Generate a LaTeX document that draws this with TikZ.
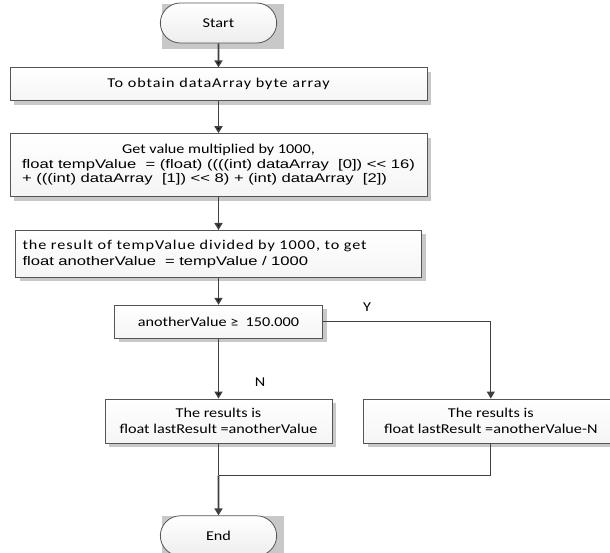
\documentclass[tikz,border=0pt]{standalone}
\usepackage{fontspec}
\setmainfont{Carlito}[FakeStretch=1.2]
\newfontfamily\codefont{Liberation Sans}[FakeStretch=1.33]
\newfontfamily\widefont{Carlito}[FakeStretch=1.2,LetterSpace=7]
\usepackage{tikz}
\usetikzlibrary{arrows.meta,positioning,shapes.misc,shadows,backgrounds}

\definecolor{linegray}{HTML}{404040}
\definecolor{framegray}{HTML}{555555}
\definecolor{shadegray}{HTML}{C8C8C8}

\newcommand{\calsize}{\fontsize{13.5}{15.5}\selectfont}
\newcommand{\codesize}{\codefont\fontsize{12.5}{14.7}\selectfont}

\begin{document}
\begin{tikzpicture}[
    > = {Triangle[length=7pt,width=8pt]}, % arrow head style
    x = 1pt, y = -1pt, % pixel units, y downwards
    font = \calsize,
    semithick % line style
    ]

    \tikzset{
    terminal/.style = {rounded rectangle, draw = framegray, line width = 0.8pt,
        top color = white, bottom color = gray!14,
        minimum width = 123pt, minimum height = 40pt},
    block/.style = {rectangle, draw = framegray, line width = 0.8pt,
        top color = white, bottom color = gray!8,
        drop shadow = {shadow xshift = 4pt, shadow yshift = -4pt,
            fill = shadegray, opacity = 1},
        minimum height = 33pt, inner sep = 6pt},
    flow/.style = {->, draw = linegray, line width = 1.6pt},
    link/.style = {draw = linegray, line width = 0.9pt}
    }

    \useasboundingbox (0,0) rectangle (610,553);

    \node[terminal] (start) at (218.5,23) {Start};
    \node[block, minimum width = 417pt] (obtain) [below = 24pt of start]
        {\widefont To obtain dataArray byte array};
    \node[block, minimum width = 417pt, minimum height = 63pt] (shift)
        [below = 32pt of obtain]
        {\renewcommand{\arraystretch}{0.95}%
        \begin{tabular}{@{}l@{}}
        \multicolumn{1}{@{}c@{}}{Get value multiplied by 1000,}\\
        \codesize float tempValue\ \ = (float) ((((int) dataArray\ \ [0]) << 16)\\
        \codesize + (((int) dataArray\ \ [1]) << 8) + (int) dataArray\ \ [2])
        \end{tabular}};
    \node[block, text width = 392pt, minimum height = 47pt, inner sep = 7pt,
        align = left] (divide) [below = 33pt of shift]
        {{\widefont the result of tempValue divided by 1000, to get}\\
        {\codesize float anotherValue\ \ = tempValue / 1000}};
    \node[block, minimum width = 208pt] (check) [below = 27pt of divide]
        {anotherValue ≥\ \ 150.000};
    \node[block, minimum width = 227pt, minimum height = 44pt, align = center]
        (keep) [below = 60pt of check]
        {The results is\\float lastResult =anotherValue};
    \node[block, minimum width = 254pt, minimum height = 44pt, align = center]
        (minus) [right = 31pt of keep]
        {The results is\\float lastResult =anotherValue-N};
    \node[terminal] (end) [below = 72pt of keep] {End};
    \coordinate (merge) at ([yshift=-32pt]keep.south);

    % labels of the branches
    \node (yes) at (367,307) {Y};
    \node (no) at (260,382) {N};

    % grey boxes behind the terminals
    \begin{scope}[on background layer]
    \fill[shadegray] ([xshift=2pt,yshift=-1pt]start.west |- start.north)
        rectangle ([xshift=7pt,yshift=-6pt]start.east |- start.south);
    \fill[shadegray] ([xshift=2pt,yshift=-1pt]end.west |- end.north)
        rectangle ([xshift=7pt,yshift=-6pt]end.east |- end.south);
    \end{scope}

    \path[flow] (start) edge (obtain)
                (obtain) edge (shift)
                (shift) edge (divide)
                (divide) edge (check)
                (check) edge (keep);
    \draw[link, ->] (check) -| (minus);
    \draw[link] (minus) |- (merge);
    \draw[flow, -] (keep) -- (merge);
    \draw[flow] (merge) -- (end);
\end{tikzpicture}
\end{document}
